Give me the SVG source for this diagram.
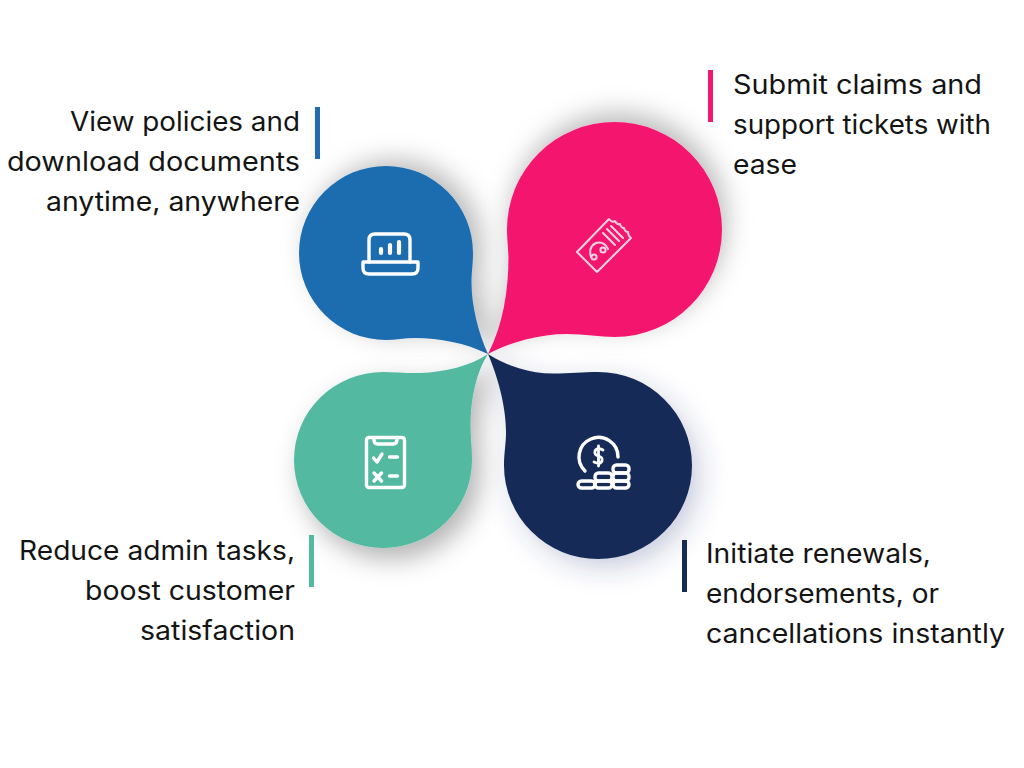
<svg xmlns="http://www.w3.org/2000/svg" width="1024" height="768" viewBox="0 0 1024 768">
<defs>
<filter id="sb" x="-30%" y="-30%" width="160%" height="160%"><feDropShadow dx="9" dy="-6" stdDeviation="13" flood-color="#000" flood-opacity="0.27"/></filter>
<filter id="sp" x="-30%" y="-30%" width="160%" height="160%"><feDropShadow dx="4" dy="-9" stdDeviation="13" flood-color="#000" flood-opacity="0.27"/></filter>
<filter id="sg" x="-30%" y="-30%" width="160%" height="160%"><feDropShadow dx="8" dy="11" stdDeviation="13" flood-color="#000" flood-opacity="0.3"/></filter>
<filter id="sn" x="-30%" y="-30%" width="160%" height="160%"><feDropShadow dx="8" dy="9" stdDeviation="13" flood-color="#2a3f7a" flood-opacity="0.25"/></filter>
</defs>
<style>
.t{font-family:"Inter","Liberation Sans",sans-serif;font-size:26.5px;fill:#141414}
.e{text-anchor:end}
.i{fill:none;stroke:#fff;stroke-width:3.400;stroke-linecap:round;stroke-linejoin:round}
.j{fill:none;stroke:#fbd3e3;stroke-width:2;stroke-linecap:round;stroke-linejoin:round}
</style>
<rect width="1024" height="768" fill="#fff"/>
<g id="connectors"></g>
<g id="node-blue">
<path filter="url(#sb)" fill="#1f6cb0" d="M488 354C478 332 471.500 305 471.500 283C471.500 272 473 265 473 253A87 87 0 1 0 386 340C395 340 405 338 415 338C440 338 465 343 488 354Z"/>
<rect x="315" y="107" width="5" height="52" fill="#1f6cb0"/>
<g class="i"><path d="M369 262V240Q369 234 375 234H404Q410 234 410 240V262"/><path d="M363 262H418V268Q418 274 412 274H369Q363 274 363 268Z"/><path d="M381 253V249M390 253V245M399 253V242" stroke-width="4.200"/></g>
<text class="t e" x="300" y="131" textLength="230" lengthAdjust="spacingAndGlyphs">View policies and</text>
<text class="t e" x="300" y="171" textLength="293" lengthAdjust="spacingAndGlyphs">download documents</text>
<text class="t e" x="300" y="211" textLength="254" lengthAdjust="spacingAndGlyphs">anytime, anywhere</text>
</g>
<g id="node-pink">
<path filter="url(#sp)" fill="#f4176e" d="M488 354C503 325 508.500 290 508.500 257C508 245 507 238 507 229.500A107.500 107.500 0 1 1 614.500 337C600 337 585 334 567 334C540 334 510 342 488 354Z"/>
<rect x="708" y="70" width="5" height="52" fill="#f4176e"/>
<g class="j"><path d="M577 252L609 219Q612 223 615 221Q617 225 620 224Q621 228 624 228Q625 232 628 232Q628 236 631 238L597 272Z"/><path d="M603 233L615 245M607 229L619 241M611 226L623 238"/><path d="M591 257Q588 247 596 243Q604 241 608 249"/><circle cx="594" cy="257" r="2.600"/><circle cx="603" cy="250" r="2.600"/></g>
<text class="t" x="733" y="94" textLength="249" lengthAdjust="spacingAndGlyphs">Submit claims and</text>
<text class="t" x="733" y="134" textLength="258" lengthAdjust="spacingAndGlyphs">support tickets with</text>
<text class="t" x="733" y="174" textLength="64" lengthAdjust="spacingAndGlyphs">ease</text>
</g>
<g id="node-green">
<path filter="url(#sg)" fill="#53b9a0" d="M488 354C476 372 470.500 400 470.500 425C470.500 437 472 445 472 460A89 88 0 1 1 383 372C395 372 408 373.500 420 373C445 372 470 366 488 354Z"/>
<rect x="309" y="535" width="5" height="52" fill="#53b9a0"/>
<g class="i"><rect x="366.500" y="437.500" width="38" height="50" rx="2.500"/><path d="M374 438V440Q374 444 378 444H393Q397 444 397 440V438"/><path d="M373.500 458L377 462L382 454M389.500 457H397.500M374 473L381.500 481M381.500 473L374 481M389.500 476H397.500"/></g>
<text class="t e" x="295" y="560" textLength="276" lengthAdjust="spacingAndGlyphs">Reduce admin tasks,</text>
<text class="t e" x="295" y="600" textLength="210" lengthAdjust="spacingAndGlyphs">boost customer</text>
<text class="t e" x="295" y="640" textLength="155" lengthAdjust="spacingAndGlyphs">satisfaction</text>
</g>
<g id="node-navy">
<path filter="url(#sn)" fill="#142b58" d="M488 354C497 375 506 405 506 432C506 445 504 452 504 465.500A94 93.500 0 1 0 598 372C583 372 570 373.500 553 373.500C530 373.500 507 366 488 354Z"/>
<rect x="682" y="540" width="5" height="52" fill="#142b58"/>
<g class="i"><path d="M585 471A19.500 19.500 0 1 1 618 457"/><path d="M603 450Q597 447 595 451Q594 455 598.500 456Q603 457 602 461Q600 465 594 462M598.500 446V466" stroke-width="2.800"/><rect x="578" y="481" width="17" height="7" rx="3.500"/><rect x="595" y="473" width="17" height="8" rx="3.500"/><rect x="595" y="481" width="17" height="7" rx="3.500"/><rect x="613" y="465" width="16" height="8" rx="3.500"/><rect x="613" y="473" width="16" height="8" rx="3.500"/><rect x="613" y="481" width="16" height="7" rx="3.500"/></g>
<text class="t" x="706" y="563" textLength="225" lengthAdjust="spacingAndGlyphs">Initiate renewals,</text>
<text class="t" x="706" y="603" textLength="233" lengthAdjust="spacingAndGlyphs">endorsements, or</text>
<text class="t" x="706" y="643" textLength="299" lengthAdjust="spacingAndGlyphs">cancellations instantly</text>
</g>
</svg>
